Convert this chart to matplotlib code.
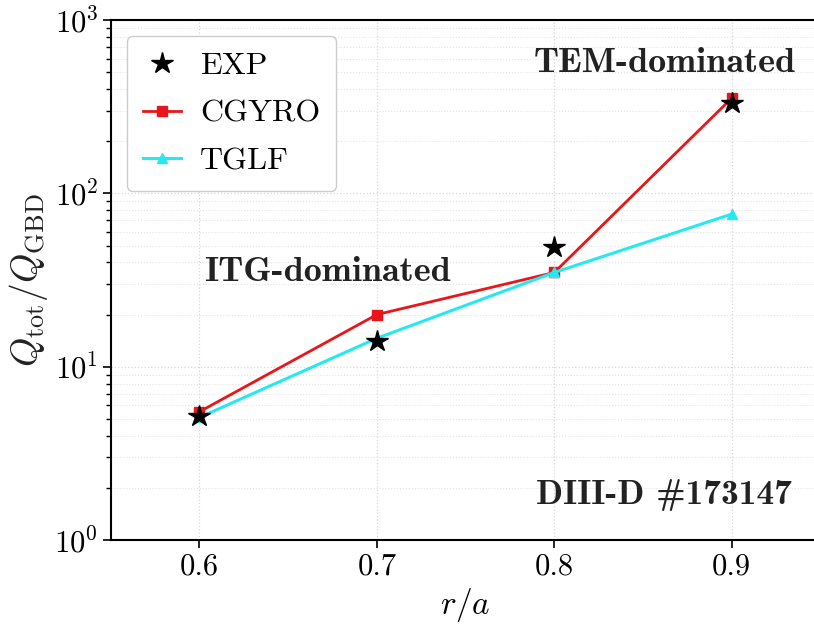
import matplotlib
matplotlib.use("Agg")
import matplotlib.pyplot as plt

plt.rcParams['font.family'] = ['cmr10', 'DejaVu Serif']
plt.rcParams['mathtext.fontset'] = 'cm'
plt.rcParams['axes.formatter.use_mathtext'] = True
plt.rcParams['axes.unicode_minus'] = False

r_a = [0.6, 0.7, 0.8, 0.9]
exp_vals = [5.2, 14.0, 49.0, 332.0]
cgyro_vals = [5.5, 20.0, 35.0, 355.0]
tglf_vals = [5.1, 14.6, 35.0, 76.0]

fig = plt.figure(figsize=(8.14, 6.28), dpi=100)
ax = fig.add_axes([0.136, 0.140, 0.872, 0.828])

ax.plot(r_a, cgyro_vals, color='#e8161b', marker='s', markersize=7, lw=2, label='CGYRO', zorder=3)
ax.plot(r_a, tglf_vals, color='#27e8f0', marker='^', markersize=7, lw=2.2, label='TGLF', zorder=3)
ax.plot(r_a, exp_vals, ls='none', color='black', marker='*', markersize=16, label='EXP', zorder=4)

ax.set_yscale('log')
ax.set_ylim(1, 1000)
ax.set_xlim(0.55, 0.95)
ax.set_xticks([0.6, 0.7, 0.8, 0.9])
ax.set_xticklabels(['0.6', '0.7', '0.8', '0.9'])
ax.tick_params(axis='both', which='major', labelsize=22, length=6, width=1.2, direction='out')
ax.tick_params(axis='y', which='minor', length=3.5, width=1.0, direction='out')
ax.tick_params(axis='y', which='major', pad=3)
ax.grid(True, which='major', ls=':', color='#d8d8d8', lw=0.9)
ax.grid(True, which='minor', ls=':', color='#e4e4e4', lw=0.8)
for s in ax.spines.values():
    s.set_linewidth(1.5)

ax.set_xlabel(r'$r/a$', fontsize=24, labelpad=4)
ax.set_ylabel(r'$Q_{\rm tot}/Q_{\rm GBD}$', fontsize=27, labelpad=3, color='#222222')

handles, labels = ax.get_legend_handles_labels()
order = [2, 0, 1]
ax.legend([handles[i] for i in order], [labels[i] for i in order], loc='upper left',
          fontsize=23, frameon=True, fancybox=True, framealpha=1.0, edgecolor='#cccccc',
          borderaxespad=0.5, handlelength=1.2, labelspacing=0.6, handletextpad=0.6,
          borderpad=0.5)

bold = ['cmb10', 'DejaVu Serif']
ax.text(0.672, 35, 'ITG-dominated', fontsize=26, fontfamily=bold,
        ha='center', va='center', color='#222222')
ax.text(0.8625, 560, 'TEM-dominated', fontsize=26, fontfamily=bold,
        ha='center', va='center', color='#222222')
ax.text(0.8615, 1.82, 'DIII-D #173147', fontsize=25.5, fontfamily=bold,
        ha='center', va='center', color='#222222')

fig.savefig('out.png', dpi=100)
